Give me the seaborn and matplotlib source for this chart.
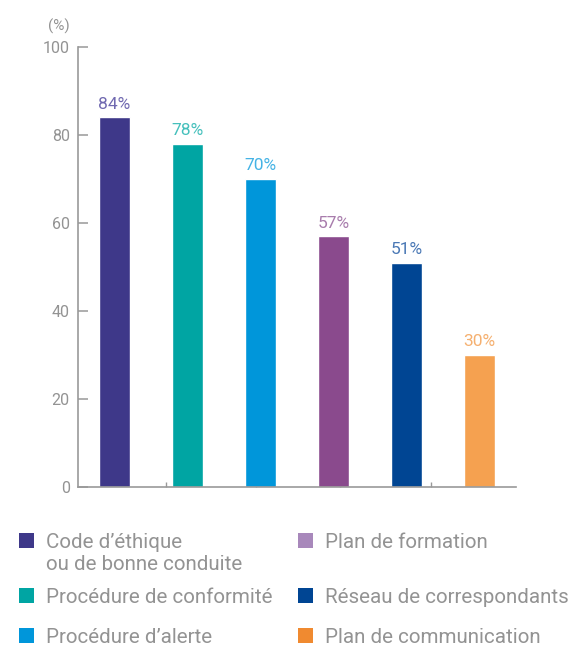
import matplotlib
matplotlib.use("Agg")
import matplotlib.pyplot as plt
from matplotlib.patches import Rectangle
import seaborn as sns
import pandas as pd

# Data
categories = [
    "Code d'éthique ou de bonne conduite",
    "Procédure de conformité",
    "Procédure d'alerte",
    "Plan de formation",
    "Réseau de correspondants",
    "Plan de communication",
]
values = [84, 78, 70, 57, 51, 30]
value_labels = ["84%", "78%", "70%", "57%", "51%", "30%"]
legend_labels = [
    "Code d’éthique\nou de bonne conduite",
    "Procédure de conformité",
    "Procédure d’alerte",
    "Plan de formation",
    "Réseau de correspondants",
    "Plan de communication",
]
y_ticks = [0, 20, 40, 60, 80, 100]

# Colours
bar_colors = ["#3e3889", "#00a5a3", "#0096da", "#8a4a8d", "#004593", "#f5a150"]
label_colors = ["#7069b0", "#45c0bc", "#45b3e5", "#a87cac", "#4a78b5", "#f5b070"]
swatch_colors = ["#3e3889", "#00a5a3", "#0096da", "#a888bb", "#004593", "#f08a30"]
gray = "#939393"
axis_gray = "#999999"

sns.set_theme(style="white")
plt.rcParams["font.family"] = ["Roboto", "DejaVu Sans"]

W, H = 569, 648
fig = plt.figure(figsize=(W / 100, H / 100), dpi=100)
ax = fig.add_axes([78 / W, (H - 487) / H, 438 / W, 440 / H])

df = pd.DataFrame({"cat": categories, "val": values})
sns.barplot(data=df, x="cat", y="val", hue="cat", palette=bar_colors,
            legend=False, width=0.42, saturation=1, ax=ax, order=categories)

ax.set_xlim(-0.5, len(categories) - 0.5)
ax.set_ylim(0, 100)
ax.set_yticks(y_ticks)
ax.set_xticks([])
ax.set_xticks([0.71, 1.94, 3.09, 4.34], minor=True)
ax.set_xlabel("")
ax.set_ylabel("")

for side in ("top", "right"):
    ax.spines[side].set_visible(False)
for side in ("left", "bottom"):
    ax.spines[side].set_color(axis_gray)
    ax.spines[side].set_linewidth(1.2)

ax.tick_params(axis="y", direction="in", length=7.5, width=1.1, color=axis_gray,
               labelcolor=gray, labelsize=11.5, pad=6, left=True)
ax.tick_params(axis="x", which="minor", direction="in", length=3.5, width=1.0,
               color=axis_gray, bottom=True)

# Value labels above each bar
for cont in ax.containers:
    for bar in cont:
        idx = int(round(bar.get_x() + bar.get_width() / 2))
        ax.annotate(value_labels[idx], (bar.get_x() + bar.get_width() / 2, values[idx]),
                    xytext=(0, 4), textcoords="offset points", ha="center", va="bottom",
                    color=label_colors[idx], fontsize=12.5)

fig.text(59 / W, 1 - 26 / H, "(%)", ha="center", va="center", color=gray,
         fontsize=11)

# Legend: two columns, three rows
col_x = [19, 298]
row_baseline = [548, 603, 643]
line_step = 22
sw = 15
for i, (lab, c) in enumerate(zip(legend_labels, swatch_colors)):
    col, row = divmod(i, 3)
    x0 = col_x[col]
    yb = row_baseline[row]
    fig.patches.append(Rectangle((x0 / W, 1 - yb / H), sw / W, sw / H,
                                 transform=fig.transFigure, facecolor=c,
                                 edgecolor="none"))
    for k, line in enumerate(lab.split("\n")):
        fig.text((x0 + 27) / W, 1 - (yb + k * line_step) / H, line, ha="left",
                 va="baseline", color=gray, fontsize=14.8)

fig.savefig("out.png", dpi=100, facecolor="white")
